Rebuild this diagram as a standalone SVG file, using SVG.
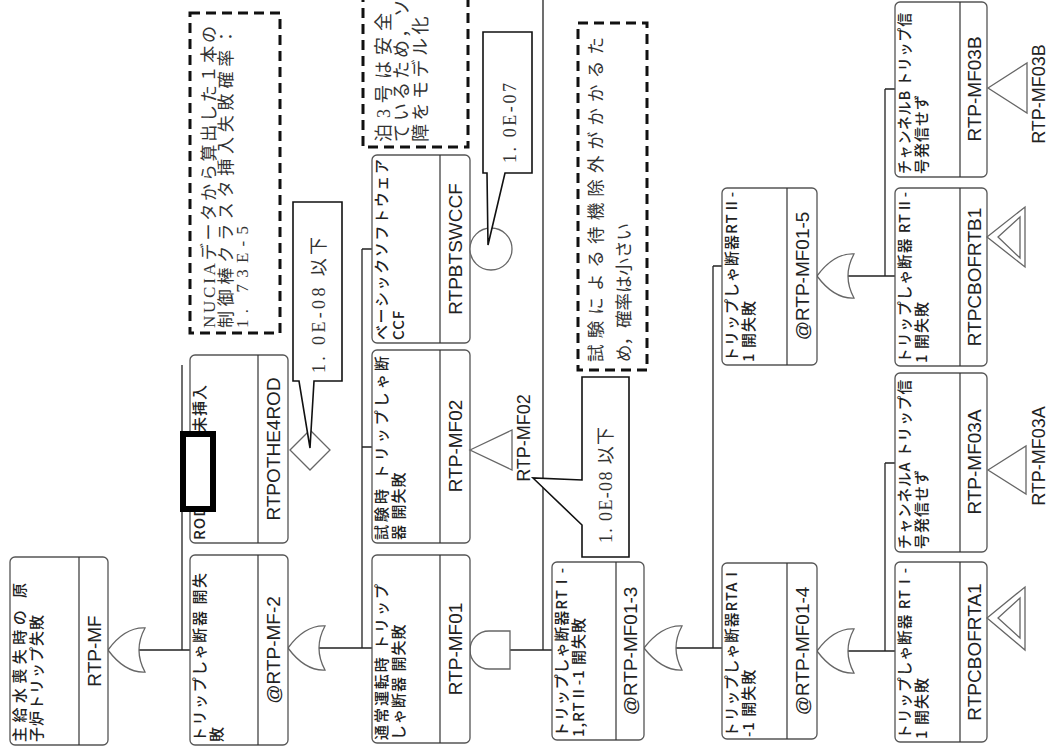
<svg xmlns="http://www.w3.org/2000/svg" width="1049" height="754" viewBox="0 0 1049 754">
<style>
.box{fill:#fff;stroke:#555;stroke-width:1.3}
.div{stroke:#333;stroke-width:1.2}
.lbl{font-family:"Noto Sans CJK JP","Noto Sans",sans-serif;font-size:15px;font-weight:500;letter-spacing:1px;fill:#222}
.id{font-family:"Liberation Sans",Arial,sans-serif;font-size:19px;fill:#222;text-anchor:middle}
.tl{font-family:"Liberation Sans",Arial,sans-serif;font-size:18px;fill:#222;text-anchor:middle}
.gate{fill:#fff;stroke:#666;stroke-width:1.3}
.conn{fill:none;stroke:#222;stroke-width:1.3}
.call{fill:#fff;stroke:#111;stroke-width:1.6}
.note{fill:none;stroke:#111;stroke-width:3;stroke-dasharray:10 6}
.nt{font-family:"Liberation Serif","Noto Sans CJK JP",serif;fill:#333}
.redact{fill:#fff;stroke:#000;stroke-width:6}
</style>
<rect width="1049" height="754" fill="#fff"/>

<g id="connectors">
<path class="conn" d="M139,650 H190 M182,365 V650 M182,449 H190"/>
<path class="conn" d="M319,648 H372 M362,249 V648 M362,249 H372 M362,447 H372"/>
<path class="conn" d="M510,650 H552 M543,0 V650"/>
<path class="conn" d="M676,648 H722 M713,266 V648 M713,266 H722"/>
<path class="conn" d="M848,651 H895 M885,463 V651 M885,463 H895"/>
<path class="conn" d="M848,276 H895 M885,89 V276 M885,89 H895"/>
</g>

<g id="gates">
<path class="gate" d="M108,650 Q125,627 145,628 Q133,650 145,672 Q125,673 108,650 Z"/>
<path class="gate" d="M288,648 Q305,625 325,626 Q313,648 325,670 Q305,671 288,648 Z"/>
<path class="gate" d="M510,631 L489,631 A19,19 0 0 0 489,669 L510,669 Z"/>
<path class="gate" d="M644,648 Q662,625 682,626 Q670,648 682,670 Q662,671 644,648 Z"/>
<path class="gate" d="M817,651 Q834,628 854,629 Q842,651 854,673 Q834,674 817,651 Z"/>
<path class="gate" d="M817,276 Q834,253 854,254 Q842,276 854,298 Q834,299 817,276 Z"/>
</g>

<g id="n-RTP-MF">
<rect class="box" x="10" y="557" width="98" height="188" rx="5"/>
<line class="div" x1="79" y1="557" x2="79" y2="745"/>
<text class="lbl" transform="translate(25,742) rotate(-90)"><tspan x="0" y="0" textLength="160" lengthAdjust="spacing">主給水喪失時の 原</tspan><tspan x="0" y="16.5">子炉トリップ失敗</tspan></text>
<text class="id" transform="translate(100.5,651) rotate(-90)">RTP-MF</text>
</g>

<g id="n-RTPOTHE4ROD">
<rect class="box" x="190" y="355" width="98" height="188" rx="5"/>
<line class="div" x1="258" y1="355" x2="258" y2="543"/>
<text class="lbl" transform="translate(205,540) rotate(-90)">ROD</text>
<text class="lbl" transform="translate(205,432) rotate(-90)">未挿入</text>
<text class="id" transform="translate(280,449) rotate(-90)">RTPOTHE4ROD</text>
<rect class="redact" x="183" y="434" width="30" height="75"/>
</g>

<g id="n-RTP-MF-2">
<rect class="box" x="190" y="555" width="98" height="190" rx="5"/>
<line class="div" x1="258" y1="555" x2="258" y2="745"/>
<text class="lbl" transform="translate(205,742) rotate(-90)"><tspan x="0" y="0" textLength="170" lengthAdjust="spacing">トリップしゃ断器 開失</tspan><tspan x="0" y="16.5">敗</tspan></text>
<text class="id" transform="translate(280,650) rotate(-90)">@RTP-MF-2</text>
</g>

<g id="n-RTPBTSWCCF">
<rect class="box" x="372" y="155" width="98" height="188" rx="5"/>
<line class="div" x1="440" y1="155" x2="440" y2="343"/>
<text class="lbl" transform="translate(387,340) rotate(-90)"><tspan x="0" y="0" textLength="182" lengthAdjust="spacing">ベーシックソフトウェア</tspan><tspan x="0" y="16.5">CCF</tspan></text>
<text class="id" transform="translate(462,249) rotate(-90)">RTPBTSWCCF</text>
<circle class="gate" cx="491" cy="249" r="21"/>
</g>

<g id="n-RTP-MF02">
<rect class="box" x="372" y="350" width="98" height="193" rx="5"/>
<line class="div" x1="440" y1="350" x2="440" y2="543"/>
<text class="lbl" transform="translate(387,540) rotate(-90)"><tspan x="0" y="0" textLength="185" lengthAdjust="spacing">試験時 トリップしゃ断</tspan><tspan x="0" y="16.5">器 開失敗</tspan></text>
<text class="id" transform="translate(462,446) rotate(-90)">RTP-MF02</text>
<polygon class="gate" points="470,450 512,430 512,470"/>
<text class="tl" transform="translate(530,438) rotate(-90)">RTP-MF02</text>
</g>

<g id="n-RTP-MF01">
<rect class="box" x="372" y="555" width="98" height="188" rx="5"/>
<line class="div" x1="440" y1="555" x2="440" y2="743"/>
<text class="lbl" transform="translate(387,740) rotate(-90)"><tspan x="0" y="0" textLength="157" lengthAdjust="spacing">通常運転時 トリップ</tspan><tspan x="0" y="16.5">しゃ断器 開失敗</tspan></text>
<text class="id" transform="translate(462,649) rotate(-90)">RTP-MF01</text>
</g>

<g id="n-RTP-MF01-3">
<rect class="box" x="552" y="562" width="92" height="178" rx="5"/>
<line class="div" x1="616" y1="562" x2="616" y2="740"/>
<text class="lbl" transform="translate(567,737) rotate(-90)"><tspan x="0" y="0" textLength="170" lengthAdjust="spacingAndGlyphs">トリップしゃ断器RTⅠ-</tspan><tspan x="0" y="16.5">1,RTⅡ-1 開失敗</tspan></text>
<text class="id" transform="translate(637,651) rotate(-90)">@RTP-MF01-3</text>
</g>

<g id="n-RTP-MF01-4">
<rect class="box" x="722" y="563" width="95" height="176" rx="5"/>
<line class="div" x1="787" y1="563" x2="787" y2="739"/>
<text class="lbl" transform="translate(737,737) rotate(-90)"><tspan x="0" y="0" textLength="171" lengthAdjust="spacingAndGlyphs">トリップしゃ断器RTAⅠ</tspan><tspan x="0" y="16.5">-1 開失敗</tspan></text>
<text class="id" transform="translate(809,651) rotate(-90)">@RTP-MF01-4</text>
</g>

<g id="n-RTP-MF01-5">
<rect class="box" x="722" y="188" width="95" height="177" rx="5"/>
<line class="div" x1="787" y1="188" x2="787" y2="365"/>
<text class="lbl" transform="translate(737,362) rotate(-90)"><tspan x="0" y="0" textLength="171" lengthAdjust="spacingAndGlyphs">トリップしゃ断器RTⅡ-</tspan><tspan x="0" y="16.5">1 開失敗</tspan></text>
<text class="id" transform="translate(809,276) rotate(-90)">@RTP-MF01-5</text>
</g>

<g id="n-RTPCBOFRTA1">
<rect class="box" x="895" y="562" width="92" height="180" rx="5"/>
<line class="div" x1="960" y1="562" x2="960" y2="742"/>
<text class="lbl" transform="translate(910,739) rotate(-90)"><tspan x="0" y="0" textLength="172" lengthAdjust="spacingAndGlyphs">トリップしゃ断器 RTⅠ-</tspan><tspan x="0" y="16.5">1 開失敗</tspan></text>
<text class="id" transform="translate(980.5,652) rotate(-90)">RTPCBOFRTA1</text>
<polygon class="gate" points="987,618 1025,587 1025,650"/>
<polygon class="gate" points="998,618 1020,598 1020,638"/>
</g>

<g id="n-RTP-MF03A">
<rect class="box" x="895" y="373" width="92" height="179" rx="5"/>
<line class="div" x1="960" y1="373" x2="960" y2="552"/>
<text class="lbl" transform="translate(910,549) rotate(-90)"><tspan x="0" y="0" textLength="170" lengthAdjust="spacingAndGlyphs">チャンネルA トリップ信</tspan><tspan x="0" y="16.5">号発信せず</tspan></text>
<text class="id" transform="translate(980.5,462) rotate(-90)">RTP-MF03A</text>
<polygon class="gate" points="988,470 1026,446 1026,494"/>
<text class="tl" transform="translate(1045,456) rotate(-90)">RTP-MF03A</text>
</g>

<g id="n-RTPCBOFRTB1">
<rect class="box" x="895" y="188" width="92" height="178" rx="5"/>
<line class="div" x1="960" y1="188" x2="960" y2="366"/>
<text class="lbl" transform="translate(910,363) rotate(-90)"><tspan x="0" y="0" textLength="172" lengthAdjust="spacingAndGlyphs">トリップしゃ断器 RTⅡ-</tspan><tspan x="0" y="16.5">1 開失敗</tspan></text>
<text class="id" transform="translate(980.5,277) rotate(-90)">RTPCBOFRTB1</text>
<polygon class="gate" points="987,237 1025,207 1025,267"/>
<polygon class="gate" points="998,237 1020,217 1020,258"/>
</g>

<g id="n-RTP-MF03B">
<rect class="box" x="895" y="2" width="92" height="175" rx="5"/>
<line class="div" x1="960" y1="2" x2="960" y2="177"/>
<text class="lbl" transform="translate(910,174) rotate(-90)"><tspan x="0" y="0" textLength="162" lengthAdjust="spacingAndGlyphs">チャンネルB トリップ信</tspan><tspan x="0" y="16.5">号発信せず</tspan></text>
<text class="id" transform="translate(980.5,89) rotate(-90)">RTP-MF03B</text>
<polygon class="gate" points="988,88 1027,63 1027,113"/>
<text class="tl" transform="translate(1045,94) rotate(-90)">RTP-MF03B</text>
</g>

<g id="undeveloped-ROD">
<polygon class="gate" points="290,450 310,430 330,450 310,470"/>
</g>

<g id="callout-1">
<path class="call" d="M293,202 H342 V381 H314 L310,448 L299,381 H293 Z"/>
<text class="nt" style="font-size:18px" textLength="136" lengthAdjust="spacing" transform="translate(325,373) rotate(-90)">1. 0E-08 以下</text>
</g>

<g id="callout-2">
<path class="call" d="M483,32 H532 V173 H505 L488,245 L487,173 H483 Z"/>
<text class="nt" style="font-size:18px" textLength="80" lengthAdjust="spacing" transform="translate(516,163) rotate(-90)">1. 0E-07</text>
</g>

<g id="callout-3">
<path class="call" d="M582,377 H629 V557 H582 V525 L533,478 L582,480 Z"/>
<text class="nt" style="font-size:18px" textLength="116" lengthAdjust="spacing" transform="translate(612,543) rotate(-90)">1. 0E-08 以下</text>
</g>

<g id="note-nucia">
<rect class="note" x="190" y="13" width="90" height="320"/>
<text class="nt" style="font-size:17px" transform="translate(215,328) rotate(-90)"><tspan x="0" y="0" textLength="302" lengthAdjust="spacing">NUCIAデータから算出した１本の</tspan><tspan x="0" y="17" textLength="300" lengthAdjust="spacing">制御棒クラスタ挿入失敗確率：</tspan><tspan x="0" y="33" textLength="102" lengthAdjust="spacing">1. 73E-5</tspan></text>
</g>

<g id="note-tomari">
<rect class="note" x="363" y="-10" width="105" height="157"/>
<text class="nt" style="font-size:18px" transform="translate(390,142) rotate(-90)"><tspan x="0" y="0" letter-spacing="6">泊3号は安全</tspan><tspan x="0" y="18" letter-spacing="3">ているため，ソ</tspan><tspan x="0" y="37" letter-spacing="3.5">障をモデル化</tspan></text>
</g>

<g id="note-test">
<rect class="note" x="578" y="23" width="69" height="347"/>
<text class="nt" style="font-size:17.5px" transform="translate(602,362) rotate(-90)"><tspan x="0" y="0" textLength="325" lengthAdjust="spacing">試験による待機除外がかかるた</tspan><tspan x="0" y="28">め，確率は小さい</tspan></text>
</g>
</svg>
